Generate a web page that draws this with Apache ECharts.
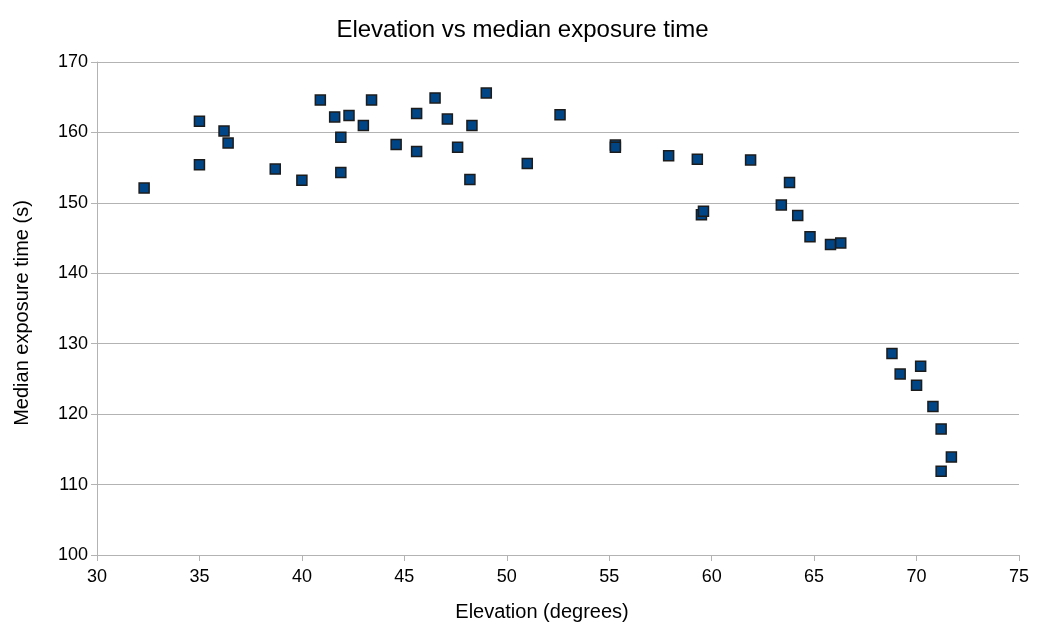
<!DOCTYPE html>
<html>
<head>
<meta charset="utf-8">
<script src="https://cdn.jsdelivr.net/npm/echarts@6/dist/echarts.min.js"></script>
<style>html,body{margin:0;padding:0;background:#fff}#c{width:1045px;height:630px}</style>
</head>
<body>
<div id="c"></div>
<script>
var elevation = [32.3,35.0,35.0,36.2,36.4,38.7,40.0,40.9,41.6,41.9,41.9,42.3,43.0,43.4,44.6,45.6,45.6,46.5,47.1,47.6,48.2,48.3,49.0,51.0,52.6,55.3,55.3,57.9,59.3,59.5,59.6,61.9,63.4,63.8,64.2,64.8,65.8,66.3,68.8,69.2,70.2,70.0,70.8,71.2,71.2,71.7];
var exposure = [152.1,161.6,155.4,160.2,158.5,154.8,153.2,164.6,162.2,159.3,154.3,162.4,161.0,164.6,158.3,162.7,157.3,164.9,161.9,157.9,153.3,161.0,165.6,155.6,162.5,158.2,157.9,156.7,156.2,148.3,148.8,156.1,149.7,152.9,148.2,145.2,144.1,144.3,128.6,125.7,126.8,124.1,121.1,117.9,111.9,113.9];
var points = elevation.map(function(x,i){return [x, exposure[i]];});
var chart = echarts.init(document.getElementById('c'), null, {renderer:'canvas'});
var font = 'Liberation Sans, Arial, sans-serif';
chart.setOption({
  animation:false,
  backgroundColor:'#fff',
  title:{text:'Elevation vs median exposure time', left:'center', top:13,
    textStyle:{fontFamily:font, fontSize:24, fontWeight:'normal', color:'#000'}},
  grid:{left:97, right:26, top:62, bottom:75, containLabel:false},
  xAxis:{type:'value', min:30, max:75, interval:5,
    name:'Elevation (degrees)', nameLocation:'middle', nameGap:47,
    nameTextStyle:{fontFamily:font, fontSize:20, color:'#000', padding:[0,32,0,0]},
    axisLine:{show:true, onZero:false, lineStyle:{color:'#b3b3b3', width:1}},
    axisTick:{show:true, length:6, lineStyle:{color:'#b3b3b3'}},
    axisLabel:{fontFamily:font, fontSize:18, color:'#000', margin:13},
    splitLine:{show:false}},
  yAxis:{type:'value', min:100, max:170, interval:10,
    name:'Median exposure time (s)', nameLocation:'middle', nameGap:65,
    nameTextStyle:{fontFamily:font, fontSize:20, color:'#000', padding:[0,9,0,0]},
    axisLine:{show:true, lineStyle:{color:'#b3b3b3', width:1}},
    axisTick:{show:true, length:6, lineStyle:{color:'#b3b3b3'}},
    axisLabel:{fontFamily:font, fontSize:18, color:'#000', margin:9},
    splitLine:{show:true, lineStyle:{color:'#b3b3b3', width:1}}},
  series:[{type:'scatter', data:points, symbol:'rect', symbolSize:10,
    itemStyle:{color:'#004586', borderColor:'#1c1c1c', borderWidth:1.5, opacity:1}}]
});
</script>
</body>
</html>
